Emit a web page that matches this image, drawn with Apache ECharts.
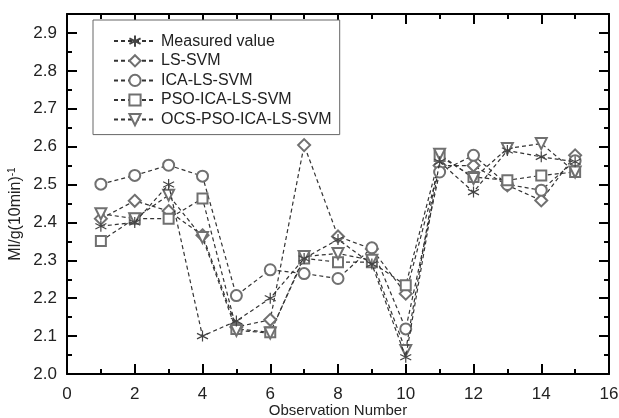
<!DOCTYPE html>
<html>
<head>
<meta charset="utf-8">
<script src="https://cdn.jsdelivr.net/npm/echarts@6/dist/echarts.min.js"></script>
<style>
html, body { margin: 0; padding: 0; background: #fff; }
#chart { width: 619px; height: 418px; }
</style>
</head>
<body>
<div id="chart"></div>
<script>
const obs = [1, 2, 3, 4, 5, 6, 7, 8, 9, 10, 11, 12, 13, 14, 15];
const measured = [2.39, 2.40, 2.50, 2.10, 2.14, 2.20, 2.305, 2.355, 2.29, 2.044, 2.56, 2.48, 2.59, 2.573, 2.56];
const lsSvm    = [2.41, 2.457, 2.43, 2.366, 2.124, 2.143, 2.604, 2.363, 2.33, 2.212, 2.55, 2.55, 2.498, 2.458, 2.577];
const icaLsSvm = [2.501, 2.524, 2.551, 2.522, 2.207, 2.275, 2.265, 2.252, 2.333, 2.119, 2.533, 2.577, 2.50, 2.485, 2.563];
const psoIca   = [2.351, 2.41, 2.41, 2.463, 2.119, 2.11, 2.305, 2.295, 2.295, 2.234, 2.575, 2.52, 2.511, 2.524, 2.533];
const ocsPso   = [2.423, 2.41, 2.472, 2.36, 2.115, 2.108, 2.31, 2.318, 2.30, 2.062, 2.58, 2.516, 2.595, 2.608, 2.533];
const yMajor = [2.0, 2.1, 2.2, 2.3, 2.4, 2.5, 2.6, 2.7, 2.8, 2.9];
const yMinor = [2.05, 2.15, 2.25, 2.35, 2.45, 2.55, 2.65, 2.75, 2.85];

const STAR = 'path://M0,-1L0,1M-0.87,-0.5L0.87,0.5M-0.87,0.5L0.87,-0.5';
const FONT = 'Liberation Sans';
const TICK = { color: '#000', width: 2 };
const LINE = { show: true, onZero: false, lineStyle: { color: '#000', width: 2 } };

function pairs(vals) {
    return obs.map((x, i) => [x, vals[i]]);
}

function mkSeries(name, vals, symbol, size, extra) {
    return Object.assign({
        name: name,
        type: 'line',
        data: pairs(vals),
        symbol: symbol,
        symbolSize: size,
        showAllSymbol: true,
        lineStyle: { color: '#333', width: 1.2, type: [4, 3] },
        itemStyle: { color: '#707070', borderWidth: 1.2 },
        z: 2
    }, extra || {});
}

function yAx(pos, ticks, len, extra) {
    return Object.assign({
        type: 'value',
        min: 2.0,
        max: 2.95,
        position: pos,
        axisLine: LINE,
        axisTick: { show: true, inside: true, length: len, customValues: ticks, lineStyle: TICK },
        axisLabel: { show: false },
        splitLine: { show: false }
    }, extra || {});
}

const chart = echarts.init(document.getElementById('chart'));
chart.setOption({
    backgroundColor: '#fff',
    animation: false,
    grid: { left: 67, right: 10, top: 14, bottom: 44, outerBoundsMode: 'none' },
    legend: {
        left: 93,
        top: 20,
        orient: 'vertical',
        padding: [13, 8, 7, 20],
        itemWidth: 42,
        itemHeight: 14,
        itemGap: 3.6,
        borderColor: '#666',
        borderWidth: 1,
        backgroundColor: '#fff',
        textStyle: { fontFamily: FONT, fontSize: 16, color: '#222' },
        data: ['Measured value', 'LS-SVM', 'ICA-LS-SVM', 'PSO-ICA-LS-SVM', 'OCS-PSO-ICA-LS-SVM']
    },
    xAxis: [{
        type: 'value',
        min: 0,
        max: 16,
        interval: 2,
        name: 'Observation Number',
        nameLocation: 'middle',
        nameMoveOverlap: false,
        nameGap: 29,
        nameTextStyle: { fontFamily: FONT, fontSize: 15, color: '#222' },
        axisLine: LINE,
        axisTick: { show: true, inside: true, length: 10, lineStyle: TICK },
        minorTick: { show: true, splitNumber: 2, length: 5, lineStyle: TICK },
        axisLabel: { fontFamily: FONT, fontSize: 17, color: '#222', margin: 12 },
        splitLine: { show: false }
    }, {
        type: 'value',
        position: 'top',
        min: 0,
        max: 16,
        interval: 2,
        axisLine: LINE,
        axisTick: { show: true, inside: true, length: 10, lineStyle: TICK },
        minorTick: { show: true, splitNumber: 2, length: 5, lineStyle: TICK },
        axisLabel: { show: false },
        splitLine: { show: false }
    }],
    yAxis: [
        yAx('left', yMajor, 10, {
            name: '{a|Ml/g(10min)}{b|-1}',
            nameLocation: 'middle',
            nameMoveOverlap: false,
            nameGap: 42,
            nameTextStyle: {
                fontFamily: FONT, fontSize: 16, color: '#222', padding: [0, 40, 0, 0],
                rich: {
                    a: { fontFamily: FONT, fontSize: 16, color: '#222' },
                    b: { fontFamily: FONT, fontSize: 10, color: '#222', verticalAlign: 'top', padding: [0, 0, 8, 0] }
                }
            },
            axisLabel: { show: true, customValues: yMajor, fontFamily: FONT, fontSize: 17, color: '#222', margin: 10,
                formatter: v => v.toFixed(1) }
        }),
        yAx('right', yMajor, 10),
        yAx('left', yMinor, 5, { axisLine: { show: false, onZero: false } }),
        yAx('right', yMinor, 5, { axisLine: { show: false, onZero: false } })
    ],
    series: [
        mkSeries('Measured value', measured, STAR, 11, {
            itemStyle: { color: 'none', borderColor: '#444', borderWidth: 1.2 }, z: 3
        }),
        mkSeries('LS-SVM', lsSvm, 'emptyDiamond', 12),
        mkSeries('ICA-LS-SVM', icaLsSvm, 'emptyCircle', 11),
        mkSeries('PSO-ICA-LS-SVM', psoIca, 'emptyRect', 10),
        mkSeries('OCS-PSO-ICA-LS-SVM', ocsPso, 'emptyTriangle', 11, { symbolRotate: 180 })
    ]
});
</script>
</body>
</html>
